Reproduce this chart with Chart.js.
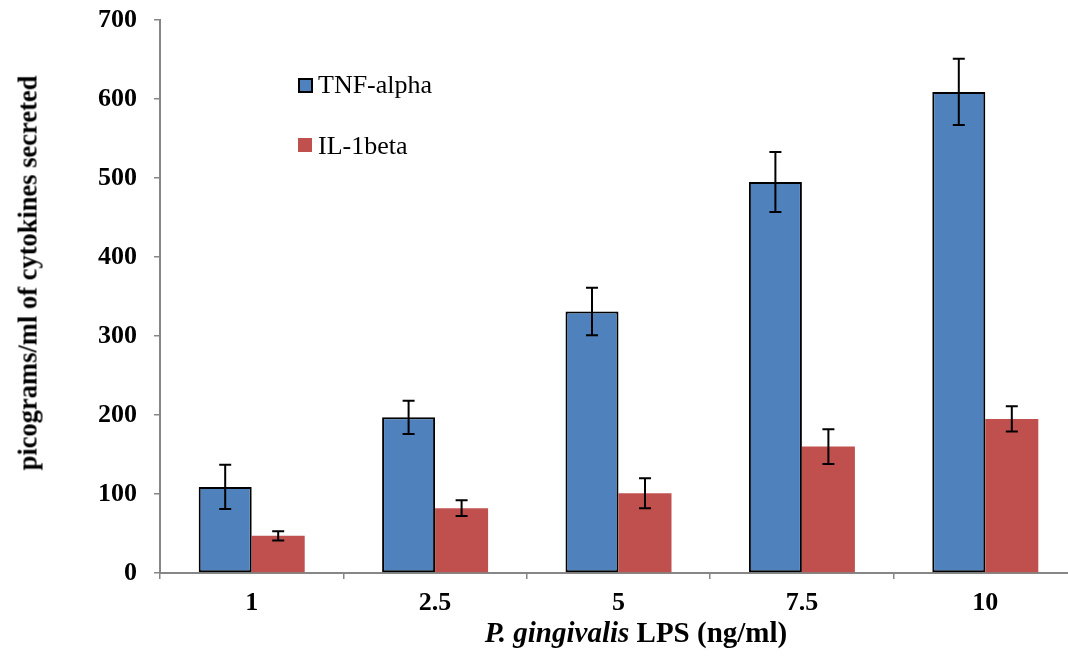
<!DOCTYPE html>
<html>
<head>
<meta charset="utf-8">
<script src="https://cdn.jsdelivr.net/npm/chart.js@4/dist/chart.umd.min.js"></script>
<style>
  html, body { margin: 0; padding: 0; background: #fff; }
  #wrap { position: relative; width: 1068px; height: 659px; overflow: hidden; }
  #box { position: absolute; left: 0; top: 0; width: 1078px; height: 659px; }
  .serif { font-family: "Liberation Serif", "Times New Roman", serif; color: #000; }
  #ytitle { position: absolute; left: 28px; top: 273px; transform: translate(-50%, -50%) rotate(-90deg);
    white-space: nowrap; font-size: 26.5px; font-weight: bold; }
  #xtitle { position: absolute; left: 636px; top: 632px; transform: translate(-50%, -50%);
    white-space: nowrap; font-size: 29px; font-weight: bold; }
  .leg { position: absolute; white-space: nowrap; font-size: 26px; line-height: 26px; }
  .sw { position: absolute; width: 14px; height: 14px; }
</style>
</head>
<body>
<div id="wrap">
  <div id="box"><canvas id="myGraph" width="1078" height="659"></canvas></div>
  <div id="ytitle" class="serif">picograms/ml of cytokines secreted</div>
  <div id="xtitle" class="serif"><i>P. gingivalis</i> LPS (ng/ml)</div>
  <div class="sw" style="left:298px;top:78px;background:#4F81BD;border:2px solid #000;width:11px;height:11px;"></div>
  <div class="leg serif" style="left:318px;top:72px;">TNF-alpha</div>
  <div class="sw" style="left:298px;top:138px;background:#C0504D;"></div>
  <div class="leg serif" style="left:318px;top:133px;">IL-1beta</div>
</div>
<script>
"use strict";

// P. gingivalis LPS doses (ng/ml)
let doses = ["1", "2.5", "5", "7.5", "10"];
let tnfValues = [109, 197, 331, 495, 609];
let tnfErrors = [28, 21, 30, 38, 42];
let ilValues = [47, 82, 101, 160, 195];
let ilErrors = [6, 10, 19, 22, 16];
let yTicks = [0, 100, 200, 300, 400, 500, 600, 700];

let serif = "'Liberation Serif', 'Times New Roman', serif";
let axisGray = "#868686";

// whiskers drawn through the y scale
const errorBars = {
    id: "errorBars",
    afterDatasetsDraw(chart) {
        let ctx = chart.ctx;
        let yScale = chart.scales.y;
        chart.data.datasets.forEach(function (ds, i) {
            let meta = chart.getDatasetMeta(i);
            meta.data.forEach(function (bar, j) {
                let v = ds.data[j];
                let e = ds.errors[j];
                let top = yScale.getPixelForValue(v + e);
                let bottom = yScale.getPixelForValue(v - e);
                ctx.save();
                ctx.strokeStyle = "#000";
                ctx.lineWidth = 2;
                ctx.beginPath();
                ctx.moveTo(bar.x, top);
                ctx.lineTo(bar.x, bottom);
                ctx.moveTo(bar.x - 6, top);
                ctx.lineTo(bar.x + 6, top);
                ctx.moveTo(bar.x - 6, bottom);
                ctx.lineTo(bar.x + 6, bottom);
                ctx.stroke();
                ctx.restore();
            });
        });
    },
};

const data = {
    labels: doses,
    datasets: [
        {
            label: "TNF-alpha",
            data: tnfValues,
            errors: tnfErrors,
            backgroundColor: "#4F81BD",
            borderColor: "#000",
            borderWidth: 2,
            borderSkipped: false,
        },
        {
            label: "IL-1beta",
            data: ilValues,
            errors: ilErrors,
            backgroundColor: "#C0504D",
            borderWidth: 0,
        },
    ],
};

const config = {
    type: "bar",
    data: data,
    options: {
        responsive: false,
        animation: false,
        events: [],
        layout: { padding: { top: 20, right: 1, left: 0, bottom: 0 } },
        datasets: { bar: { categoryPercentage: 0.578, barPercentage: 1 } },
        plugins: { legend: { display: false }, tooltip: { enabled: false } },
        scales: {
            x: {
                offset: true,
                grid: {
                    offset: true,
                    drawOnChartArea: false,
                    color: axisGray,
                    tickLength: 6,
                    lineWidth: 1.5,
                },
                border: { color: axisGray, width: 2 },
                ticks: {
                    color: "#000",
                    padding: 9,
                    font: { family: serif, size: 26, weight: "bold" },
                },
                afterFit(scale) {
                    scale.height = 86;
                    scale.paddingLeft = 0;
                    scale.paddingRight = 0;
                },
            },
            y: {
                min: 0,
                max: 700,
                afterBuildTicks(scale) {
                    scale.ticks = yTicks.map(function (v) {
                        return { value: v };
                    });
                },
                grid: {
                    drawOnChartArea: false,
                    color: axisGray,
                    tickLength: 6,
                    lineWidth: 1.5,
                },
                border: { color: axisGray, width: 2 },
                ticks: {
                    color: "#000",
                    padding: 17,
                    font: { family: serif, size: 26, weight: "bold" },
                },
                afterFit(scale) {
                    scale.width = 160;
                    scale.paddingTop = 0;
                    scale.paddingBottom = 0;
                },
            },
        },
    },
    plugins: [errorBars],
};

const canvasChart = document.getElementById("myGraph");
new Chart(canvasChart, config);
</script>
</body>
</html>
